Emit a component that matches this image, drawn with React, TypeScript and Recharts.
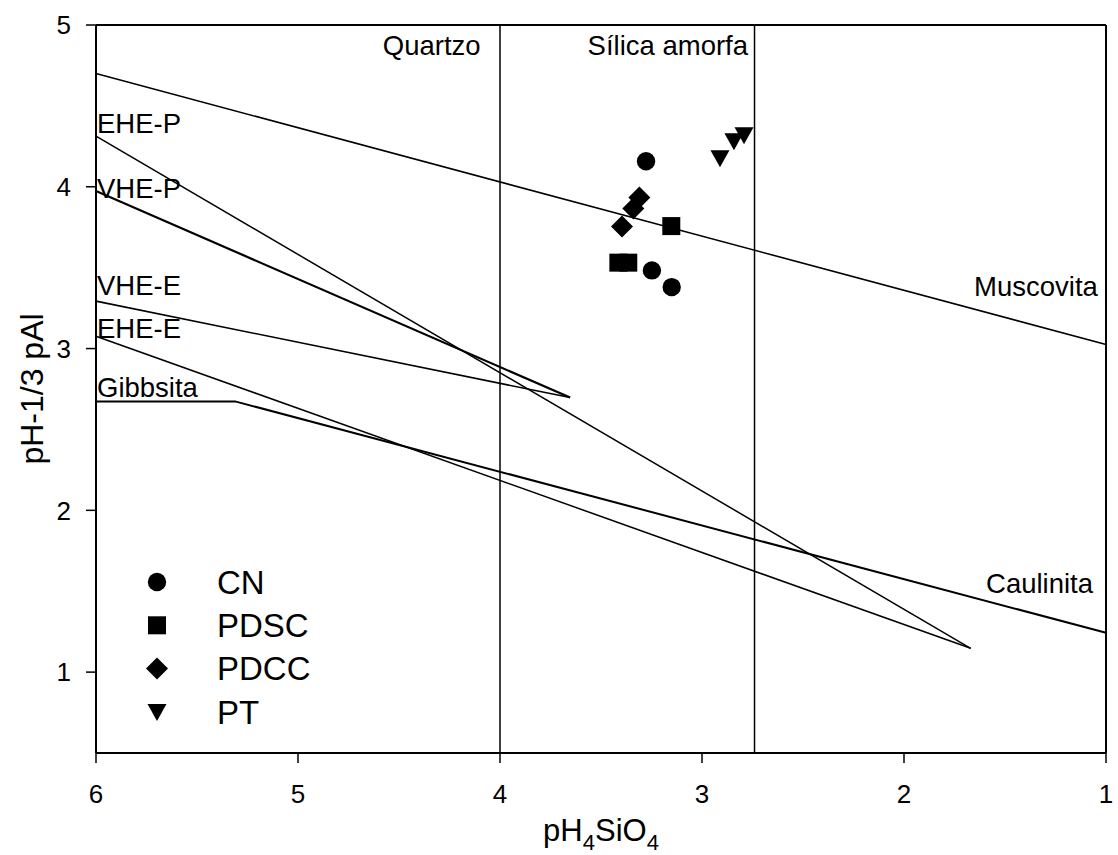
import React from 'react';
import { ScatterChart, Scatter, XAxis, YAxis, ReferenceLine, ReferenceDot, Legend } from 'recharts';

const FONT = '"Liberation Sans", Arial, Helvetica, sans-serif';

const xTicks = [6, 5, 4, 3, 2, 1];
const yTicks = [1, 2, 3, 4, 5];

// Sample points (pH4SiO4, pH-1/3 pAl)
const cnData = [
  { x: 3.277, y: 4.158 },
  { x: 3.248, y: 3.483 },
  { x: 3.15, y: 3.38 },
];
const pdscData = [
  { x: 3.152, y: 3.757 },
  { x: 3.414, y: 3.531 },
  { x: 3.365, y: 3.531 },
];
const pdccData = [
  { x: 3.396, y: 3.755 },
  { x: 3.34, y: 3.865 },
  { x: 3.31, y: 3.933 },
];
const ptData = [
  { x: 2.911, y: 4.176 },
  { x: 2.842, y: 4.282 },
  { x: 2.792, y: 4.319 },
];

// Stability boundaries
const muscovitaLine = [{ x: 6, y: 4.7 }, { x: 1, y: 3.025 }];
const ehePLine = [{ x: 6, y: 4.313 }, { x: 1.67, y: 1.147 }];
const eheELine = [{ x: 6, y: 3.076 }, { x: 1.67, y: 1.147 }];
const vhePLine = [{ x: 6, y: 3.974 }, { x: 3.653, y: 2.697 }];
const vheELine = [{ x: 6, y: 3.293 }, { x: 3.653, y: 2.697 }];
const gibbsitaLine = [{ x: 6, y: 2.672 }, { x: 5.307, y: 2.672 }, { x: 1, y: 1.243 }];
const quartzoX = 4;
const silicaX = 2.74;

const boundaryLines = [
  { name: 'muscovita', pts: muscovitaLine, w: 1.6 },
  { name: 'ehep', pts: ehePLine, w: 1.5 },
  { name: 'ehee', pts: eheELine, w: 1.5 },
  { name: 'vhep', pts: vhePLine, w: 2.2 },
  { name: 'vhee', pts: vheELine, w: 1.6 },
  { name: 'gibbsita', pts: gibbsitaLine, w: 2.0 },
];

const labelTexts = ['Quartzo', 'Sílica amorfa', 'EHE-P', 'VHE-P', 'VHE-E', 'EHE-E', 'Gibbsita', 'Muscovita', 'Caulinita'];
const labelX = [4.096, 2.772, 5.995, 5.995, 5.995, 5.995, 5.995, 1.04, 1.064];
const labelY = [4.814, 4.814, 4.331, 3.929, 3.328, 3.068, 2.703, 3.322, 1.491];
const labelAnchor = ['end', 'end', 'start', 'start', 'start', 'start', 'start', 'end', 'end'];

const seriesNames = ['CN', 'PDSC', 'PDCC', 'PT'];

const drawSymbol = (kind: string, cx: number, cy: number) => {
  if (kind === 'CN') return <circle cx={cx} cy={cy} r={9.2} fill="#000" />;
  if (kind === 'PDSC') return <rect x={cx - 9} y={cy - 9} width={18} height={18} fill="#000" />;
  if (kind === 'PDCC')
    return <path d={`M${cx},${cy - 11} L${cx + 11},${cy} L${cx},${cy + 11} L${cx - 11},${cy} Z`} fill="#000" />;
  return <path d={`M${cx - 9.5},${cy - 8} L${cx + 9.5},${cy - 8} L${cx},${cy + 9} Z`} fill="#000" />;
};

const shapeFor = (kind: string) => (p: any) => drawSymbol(kind, p.cx, p.cy);

const renderLegend = () => (
  <svg width={260} height={180} style={{ display: 'block' }}>
    {seriesNames.map((n, i) => {
      const cy = 22 + i * 43.3;
      return (
        <g key={n}>
          {drawSymbol(n, 27, cy)}
          <text x={87} y={cy} dy="0.36em" fontSize={33} fontFamily={FONT} fill="#000">
            {n}
          </text>
        </g>
      );
    })}
  </svg>
);

const XTitle = (props: any) => {
  const vb = props.viewBox || {};
  const cx = vb.x + vb.width / 2;
  const y = vb.y + 88;
  return (
    <text x={cx} y={y} textAnchor="middle" fontSize={31} fontFamily={FONT} fill="#000">
      <tspan>pH</tspan>
      <tspan fontSize={22} dy={9}>4</tspan>
      <tspan dy={-9}>SiO</tspan>
      <tspan fontSize={22} dy={9}>4</tspan>
    </text>
  );
};

const YTitle = (props: any) => {
  const vb = props.viewBox || {};
  const cx = 32;
  const cy = vb.y + vb.height / 2;
  return (
    <text
      x={cx}
      y={cy}
      textAnchor="middle"
      dominantBaseline="central"
      transform={`rotate(-90, ${cx}, ${cy})`}
      fontSize={32}
      fontFamily={FONT}
      fill="#000"
    >
      pH-1/3 pAl
    </text>
  );
};

export default function App() {
  return (
    <div style={{ position: 'absolute', left: 0, top: 0, width: 1118, height: 855, background: '#fff' }}>
      <ScatterChart width={1118} height={855} margin={{ top: 25, right: 12, bottom: 0, left: 0 }}>
        <XAxis
          type="number"
          dataKey="x"
          domain={[1, 6]}
          reversed
          ticks={xTicks}
          interval={0}
          allowDataOverflow
          height={102}
          tickSize={10}
          tickMargin={22}
          axisLine={{ stroke: '#000', strokeWidth: 2 }}
          tickLine={{ stroke: '#000', strokeWidth: 1.5 }}
          tick={{ fill: '#000', fontSize: 26, fontFamily: FONT }}
          label={{ content: XTitle }}
        />
        <YAxis
          type="number"
          dataKey="y"
          domain={[0.5, 5]}
          ticks={yTicks}
          interval={0}
          allowDataOverflow
          width={96}
          tickSize={10}
          tickMargin={15}
          axisLine={{ stroke: '#000', strokeWidth: 2 }}
          tickLine={{ stroke: '#000', strokeWidth: 1.5 }}
          tick={{ fill: '#000', fontSize: 26, fontFamily: FONT }}
          label={{ content: YTitle }}
        />
        <ReferenceLine y={5} stroke="#000" strokeWidth={2} />
        <ReferenceLine x={1} stroke="#000" strokeWidth={2} />
        <ReferenceLine x={quartzoX} stroke="#000" strokeWidth={1.5} />
        <ReferenceLine x={silicaX} stroke="#000" strokeWidth={1.5} />
        {boundaryLines.flatMap((l) =>
          l.pts.slice(1).map((p, i) => (
            <ReferenceLine
              key={`${l.name}-${i}`}
              segment={[l.pts[i], p]}
              stroke="#000"
              strokeWidth={l.w}
              ifOverflow="visible"
            />
          ))
        )}
        {labelTexts.map((t, i) => (
          <ReferenceDot
            key={t}
            x={labelX[i]}
            y={labelY[i]}
            r={0}
            ifOverflow="visible"
            shape={(p: any) => (
              <text x={p.cx} y={p.cy} textAnchor={labelAnchor[i] as any} fontSize={27.5} fontFamily={FONT} fill="#000">
                {t}
              </text>
            )}
          />
        ))}
        <Scatter name="CN" data={cnData} fill="#000" shape={shapeFor('CN')} isAnimationActive={false} />
        <Scatter name="PDSC" data={pdscData} fill="#000" shape={shapeFor('PDSC')} isAnimationActive={false} />
        <Scatter name="PDCC" data={pdccData} fill="#000" shape={shapeFor('PDCC')} isAnimationActive={false} />
        <Scatter name="PT" data={ptData} fill="#000" shape={shapeFor('PT')} isAnimationActive={false} />
        <Legend
          layout="vertical"
          align="center"
          verticalAlign="middle"
          content={renderLegend}
          wrapperStyle={{ position: 'absolute', left: 130, top: 560, width: 260, height: 180 }}
        />
      </ScatterChart>
    </div>
  );
}
